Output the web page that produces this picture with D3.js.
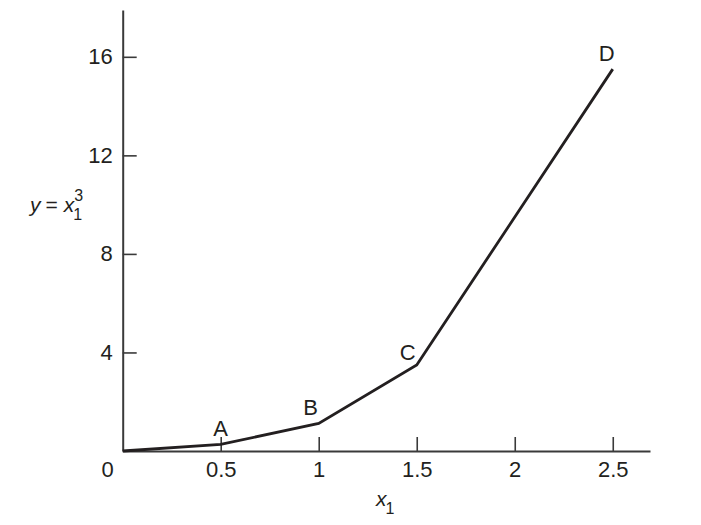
<!DOCTYPE html>
<html>
<head>
<meta charset="utf-8">
<script src="https://cdn.jsdelivr.net/npm/d3@7"></script>
<style>
  body { margin: 0; background: #fff; }
  svg text { font-family: "Liberation Sans", Arial, sans-serif; fill: #231f20; }
</style>
</head>
<body>
<svg id="chart" width="701" height="525"></svg>
<script>
// data
const xValues = [0, 0.5, 1, 1.5, 2.5];
const yValues = [0, 0.27, 1.12, 3.49, 15.5];
const pointLabels = ['', 'A', 'B', 'C', 'D'];
const xTicks = [0.5, 1, 1.5, 2, 2.5];
const xTickLabels = ['0.5', '1', '1.5', '2', '2.5'];
const yTicks = [4, 8, 12, 16];

const fontSize = 22;
const margin = { left: 122.7, top: 10, right: 51, bottom: 74 };
const width = 701 - margin.left - margin.right;
const height = 525 - margin.top - margin.bottom;

const svg = d3.select('#chart');
const g = svg.append('g').attr('transform', `translate(${margin.left},${margin.top})`);

const x = d3.scaleLinear().domain([0, 2.69]).range([0, width]);
const y = d3.scaleLinear().domain([0, 17.9]).range([height, 0]);

// axes with inward ticks
const xAxis = g.append('g')
  .attr('transform', `translate(0,${height})`)
  .call(d3.axisBottom(x).tickValues(xTicks).tickSizeInner(-14).tickSizeOuter(0)
    .tickFormat((d, i) => xTickLabels[i]).tickPadding(10));
const yAxis = g.append('g')
  .call(d3.axisLeft(y).tickValues(yTicks).tickSizeInner(-14).tickSizeOuter(0).tickPadding(10));

[xAxis, yAxis].forEach(a => {
  a.attr('font-size', fontSize).attr('font-family', '"Liberation Sans", Arial, sans-serif');
  a.select('.domain').attr('stroke', '#3a3a3a').attr('stroke-width', 2);
  a.selectAll('.tick line').attr('stroke', '#3a3a3a').attr('stroke-width', 1.6);
  a.selectAll('.tick text').attr('fill', '#231f20');
});

// origin label
g.append('text')
  .attr('x', x(0) - 15).attr('y', y(0) + 26)
  .attr('text-anchor', 'middle').attr('font-size', fontSize).text('0');

// data line
const pts = xValues.map((v, i) => [v, yValues[i]]);
g.append('path')
  .datum(pts)
  .attr('fill', 'none')
  .attr('stroke', '#231f20')
  .attr('stroke-width', 2.8)
  .attr('stroke-linejoin', 'miter')
  .attr('d', d3.line().x(d => x(d[0])).y(d => y(d[1])));

// point labels
const labelOffsets = [[0, 0], [0, -8], [-8, -8], [-9, -5], [-6, -8]];
g.selectAll('.plabel')
  .data(pts)
  .enter().append('text')
  .attr('class', 'plabel')
  .attr('x', (d, i) => x(d[0]) + labelOffsets[i][0])
  .attr('y', (d, i) => y(d[1]) + labelOffsets[i][1])
  .attr('text-anchor', 'middle')
  .attr('font-size', fontSize)
  .text((d, i) => pointLabels[i]);

// y axis title
const yt = svg.append('text').attr('x', 30).attr('y', 212).attr('font-size', 21)
  .attr('xml:space', 'preserve');
yt.append('tspan').attr('font-style', 'italic').text('y');
yt.append('tspan').attr('dx', 5).text('=');
yt.append('tspan').attr('dx', 6).attr('font-style', 'italic').text('x');
yt.append('tspan').attr('font-size', 16).attr('dy', 8).attr('dx', -1).text('1');
yt.append('tspan').attr('font-size', 16).attr('dx', -8).attr('dy', -19).text('3');

// x axis title
const xt = svg.append('text').attr('x', 376).attr('y', 506).attr('font-size', 21);
xt.append('tspan').attr('font-style', 'italic').text('x');
xt.append('tspan').attr('font-size', 16).attr('dy', 8).attr('dx', -1).text('1');
</script>
</body>
</html>
